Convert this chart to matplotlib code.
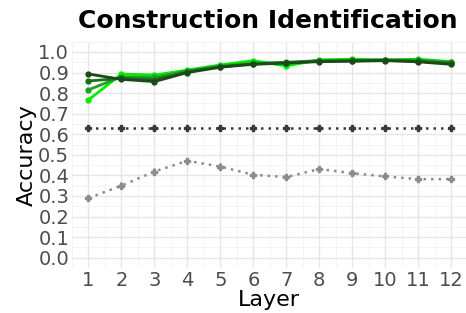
import numpy as np
import matplotlib
matplotlib.use("Agg")
import matplotlib.pyplot as plt
from matplotlib.ticker import MultipleLocator

layers = np.arange(1, 13)

# four green probing runs (darkest -> brightest)
acc_dark = [0.893, 0.867, 0.856, 0.900, 0.926, 0.940, 0.946, 0.953, 0.955, 0.958, 0.952, 0.940]
acc_mid1 = [0.859, 0.872, 0.865, 0.904, 0.928, 0.942, 0.948, 0.955, 0.957, 0.960, 0.955, 0.945]
acc_mid2 = [0.816, 0.880, 0.876, 0.908, 0.932, 0.945, 0.950, 0.958, 0.960, 0.962, 0.960, 0.950]
acc_bright = [0.767, 0.893, 0.888, 0.912, 0.937, 0.958, 0.932, 0.962, 0.965, 0.961, 0.965, 0.953]
green_cols = ["#1a4a1a", "#1e6e1e", "#22a022", "#00ee00"]

baseline_maj = [0.632] * 12
baseline_rand = [0.290, 0.350, 0.419, 0.471, 0.443, 0.403, 0.392, 0.431, 0.411, 0.395, 0.382, 0.382]
err_maj = [0.012] * 12
err_rand = [0.013, 0.016, 0.015, 0.015, 0.015, 0.014, 0.014, 0.015, 0.014, 0.013, 0.013, 0.012]

fig = plt.figure(figsize=(4.66, 3.13), dpi=100)
ax = fig.add_axes([72/466, 1-268/313, 394/466, (268-41.7)/313])

for ys, c in zip([acc_bright, acc_mid2, acc_mid1, acc_dark], green_cols[::-1]):
    ax.plot(layers, ys, color=c, lw=2, marker="o", ms=3.5, zorder=3)

ax.errorbar(layers, baseline_maj, yerr=err_maj, color="#3a3a3a", lw=1.8, ls=(0, (1, 2)),
            marker="P", ms=4, capsize=0, elinewidth=1.8, zorder=2)
ax.errorbar(layers, baseline_rand, yerr=err_rand, color="#8c8c8c", lw=1.8, ls=(0, (1, 2)),
            marker="P", ms=4, capsize=0, elinewidth=1.8, zorder=2)

ax.set_xlim(0.5, 12.45)
ax.set_ylim(-0.05, 1.05)
ax.set_xticks(layers)
ax.set_yticks(np.arange(0, 1.01, 0.1))
ax.set_yticklabels([f"{v:.1f}" for v in np.arange(0, 1.01, 0.1)])
ax.xaxis.set_minor_locator(MultipleLocator(0.5))
ax.yaxis.set_minor_locator(MultipleLocator(0.05))
ax.grid(which="major", color="#e6e6e6", lw=1.0)
ax.grid(which="minor", color="#f2f2f2", lw=0.6)
ax.set_axisbelow(True)
for s in ax.spines.values():
    s.set_visible(False)
ax.tick_params(which="both", length=0, labelsize=14, labelcolor="#4d4d4d", pad=2)

ax.set_xlabel("Layer", fontsize=16, labelpad=0)
ax.set_ylabel("Accuracy", fontsize=16, labelpad=1)
fig.text(78/466, 1-21/313, "Construction Identification", fontsize=18,
         fontweight="bold", va="center", ha="left")

fig.savefig("out.png", dpi=100)
